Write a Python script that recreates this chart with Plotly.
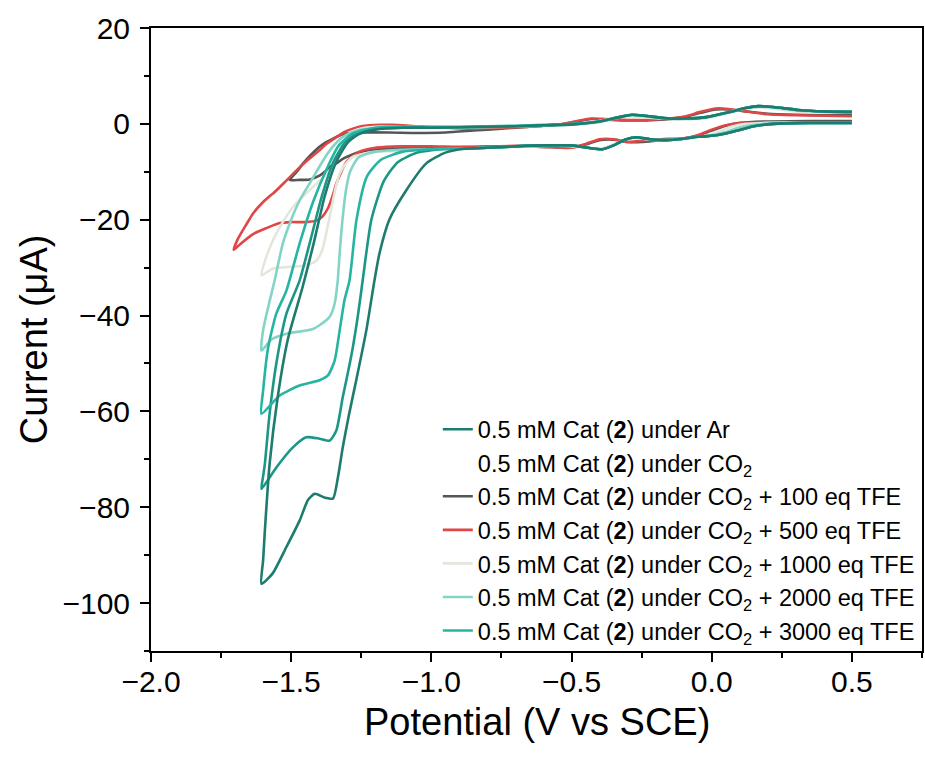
import plotly.graph_objects as go

# ---------------- data (potential V vs SCE, current uA) ----------------
# 0.5 mM Cat (2) under Ar  (dark teal, largest wave)
ar_x = [0.50, 0.42, 0.32, 0.22, 0.15, 0.10, 0.05, 0.00, -0.05, -0.10, -0.16, -0.22, -0.27, -0.31, -0.35, -0.39, -0.44, -0.50, -0.60, -0.70, -0.80, -0.88, -0.95, -1.019, -1.09, -1.15, -1.185, -1.203, -1.232, -1.268, -1.295, -1.316, -1.334, -1.351, -1.38, -1.416, -1.44, -1.47, -1.517, -1.566, -1.606,
        -1.600, -1.594, -1.577, -1.548, -1.512, -1.459, -1.42, -1.38, -1.34, -1.30, -1.26, -1.20, -1.10, -1.00, -0.90, -0.80, -0.70, -0.60, -0.50, -0.40, -0.33, -0.285, -0.24, -0.17, -0.10, -0.02, 0.06, 0.12, 0.167, 0.22, 0.31, 0.40, 0.50]
ar_y = [0.2, 0.2, 0.2, 0.0, -0.5, -1.3, -2.0, -2.5, -2.7, -3.1, -3.4, -3.2, -2.8, -3.3, -4.5, -5.3, -5.0, -4.5, -4.5, -4.7, -5.0, -5.2, -6.0, -8.3, -13.9, -20.0, -27.0, -32.7, -43.1, -53.5, -61.0, -67.5, -74.0, -78.2, -78.0, -77.2, -78.5, -82.8, -88.3, -93.8, -96.0,
        -91.0, -85.0, -71.0, -57.0, -45.0, -34.0, -25.0, -15.0, -8.0, -4.0, -2.2, -1.2, -0.8, -0.8, -0.7, -0.6, -0.5, -0.3, -0.1, 0.5, 1.4, 1.9, 1.7, 1.2, 1.1, 1.4, 2.4, 3.3, 3.7, 3.5, 2.9, 2.6, 2.5]

# 0.5 mM Cat (2) under CO2 + 100 eq TFE
tfe100_x = [0.50, 0.35, 0.20, 0.10, 0.05, 0.00, -0.05, -0.10, -0.18, -0.25, -0.30, -0.35, -0.40, -0.45, -0.50, -0.60, -0.70, -0.80, -0.90, -1.00, -1.10, -1.20, -1.256, -1.29, -1.316, -1.34, -1.363, -1.38, -1.399, -1.434, -1.47, -1.505,
            -1.48, -1.458, -1.43, -1.399, -1.375, -1.351, -1.33, -1.304, -1.25, -1.15, -1.05, -0.95, -0.85, -0.75, -0.65, -0.55, -0.48, -0.43, -0.38, -0.30, -0.20, -0.10, -0.04, 0.014, 0.06, 0.12, 0.20, 0.30, 0.40, 0.50]
tfe100_y = [0.6, 0.6, 0.5, 0.2, -0.4, -1.4, -2.5, -3.1, -3.4, -3.8, -3.8, -3.3, -3.4, -4.3, -4.9, -4.8, -4.7, -4.8, -4.9, -5.0, -5.1, -5.4, -5.9, -6.6, -7.3, -8.3, -9.0, -10.0, -10.8, -11.6, -11.7, -11.7,
            -10.0, -8.3, -6.5, -4.8, -3.8, -3.1, -2.5, -2.0, -1.8, -1.8, -1.9, -1.8, -1.4, -1.0, -0.6, -0.2, 0.5, 1.0, 0.9, 0.7, 0.8, 1.4, 2.3, 3.0, 3.0, 2.6, 2.1, 1.9, 1.8, 1.8]

# 0.5 mM Cat (2) under CO2 + 500 eq TFE
tfe500_x = [0.50, 0.35, 0.20, 0.10, 0.05, 0.00, -0.05, -0.10, -0.18, -0.25, -0.30, -0.35, -0.40, -0.45, -0.50, -0.60, -0.70, -0.80, -0.90, -1.00, -1.10, -1.161, -1.22, -1.256, -1.285, -1.304, -1.325, -1.339, -1.352, -1.368, -1.388, -1.41, -1.45, -1.50, -1.541, -1.59, -1.636, -1.68, -1.705,
            -1.69, -1.66, -1.636, -1.60, -1.553, -1.52, -1.481, -1.44, -1.399, -1.37, -1.339, -1.31, -1.28, -1.25, -1.221, -1.18, -1.139, -1.05, -0.95, -0.85, -0.75, -0.65, -0.55, -0.48, -0.43, -0.38, -0.30, -0.20, -0.10, -0.04, 0.014, 0.06, 0.12, 0.20, 0.30, 0.40, 0.50]
tfe500_y = [0.3, 0.3, 0.3, 0.1, -0.3, -1.2, -2.4, -3.0, -3.2, -3.5, -3.8, -3.2, -3.2, -4.2, -5.0, -4.8, -4.6, -4.7, -4.8, -4.7, -4.7, -4.8, -5.2, -5.8, -7.0, -8.0, -10.5, -12.5, -15.0, -17.5, -19.3, -20.2, -20.5, -20.5, -20.7, -21.8, -23.0, -25.0, -26.3,
            -24.0, -21.0, -18.7, -16.3, -13.9, -12.0, -9.7, -7.5, -5.5, -4.0, -2.8, -1.7, -1.0, -0.5, -0.3, -0.2, -0.2, -0.5, -0.8, -1.0, -0.8, -0.6, -0.2, 0.6, 1.1, 1.0, 0.8, 0.9, 1.5, 2.5, 3.2, 3.1, 2.6, 2.0, 1.8, 1.7, 1.6]

# 0.5 mM Cat (2) under CO2 + 1000 eq TFE
tfe1000_x = [0.50, 0.35, 0.20, 0.12, 0.07, 0.03, -0.02, -0.08, -0.16, -0.22, -0.27, -0.31, -0.36, -0.40, -0.45, -0.52, -0.60, -0.70, -0.80, -0.90, -1.00, -1.10, -1.209, -1.25, -1.280, -1.305, -1.327, -1.34, -1.351, -1.363, -1.375, -1.39, -1.41, -1.446, -1.517, -1.565, -1.606,
             -1.59, -1.565, -1.53, -1.494, -1.45, -1.410, -1.38, -1.351, -1.33, -1.316, -1.292, -1.26, -1.20, -1.10, -1.00, -0.90, -0.80, -0.70, -0.60, -0.50, -0.42, -0.35, -0.30, -0.25, -0.18, -0.10, 0.00, 0.07, 0.13, 0.20, 0.30, 0.40, 0.50]
tfe1000_y = [0.3, 0.3, 0.2, 0.0, -0.6, -1.5, -2.5, -3.0, -3.4, -3.3, -3.0, -3.3, -4.5, -5.2, -5.0, -4.6, -4.6, -4.8, -5.0, -5.2, -5.4, -5.6, -5.9, -6.4, -6.9, -8.3, -10.4, -13.0, -16.0, -19.5, -22.9, -26.5, -28.5, -29.5, -29.9, -30.2, -31.6,
             -28.0, -24.3, -20.5, -17.4, -14.7, -12.5, -10.8, -9.0, -6.3, -4.1, -2.0, -1.1, -0.6, -0.5, -0.6, -0.7, -0.6, -0.5, -0.3, -0.1, 0.4, 1.2, 1.6, 1.4, 1.1, 1.0, 1.4, 2.6, 3.4, 3.3, 2.6, 2.4, 2.3]

# 0.5 mM Cat (2) under CO2 + 2000 eq TFE
tfe2000_x = [0.50, 0.35, 0.22, 0.14, 0.09, 0.05, 0.00, -0.05, -0.10, -0.16, -0.22, -0.27, -0.31, -0.35, -0.39, -0.44, -0.50, -0.60, -0.70, -0.80, -0.90, -1.00, -1.10, -1.20, -1.26, -1.29, -1.305, -1.317, -1.327, -1.334, -1.345, -1.36, -1.375, -1.422, -1.517, -1.57, -1.606,
             -1.600, -1.577, -1.559, -1.53, -1.50, -1.47, -1.43, -1.40, -1.37, -1.34, -1.31, -1.27, -1.20, -1.10, -1.00, -0.90, -0.80, -0.70, -0.60, -0.50, -0.40, -0.33, -0.285, -0.24, -0.17, -0.10, -0.02, 0.06, 0.12, 0.167, 0.22, 0.31, 0.40, 0.50]
tfe2000_y = [0.2, 0.2, 0.1, -0.3, -0.9, -1.7, -2.4, -2.7, -3.1, -3.4, -3.2, -2.8, -3.3, -4.5, -5.3, -5.0, -4.5, -4.5, -4.7, -5.0, -5.2, -5.3, -5.4, -5.8, -7.0, -10.0, -14.0, -20.0, -27.0, -32.7, -37.5, -40.0, -41.0, -42.8, -43.8, -45.0, -47.3,
             -43.0, -37.0, -32.7, -25.0, -20.0, -16.0, -12.0, -9.0, -6.2, -4.0, -2.5, -1.5, -0.9, -0.7, -0.8, -0.8, -0.7, -0.6, -0.4, -0.2, 0.4, 1.3, 1.8, 1.6, 1.1, 1.0, 1.3, 2.3, 3.2, 3.6, 3.4, 2.8, 2.5, 2.4]

# 0.5 mM Cat (2) under CO2 + 3000 eq TFE
tfe3000_x = [0.50, 0.35, 0.22, 0.15, 0.10, 0.05, 0.00, -0.05, -0.10, -0.16, -0.22, -0.27, -0.31, -0.35, -0.39, -0.44, -0.50, -0.60, -0.70, -0.80, -0.90, -1.00, -1.10, -1.18, -1.23, -1.267, -1.292, -1.310, -1.327, -1.345, -1.369, -1.399, -1.470, -1.541, -1.606,
             -1.600, -1.582, -1.553, -1.517, -1.47, -1.42, -1.37, -1.33, -1.28, -1.20, -1.10, -1.00, -0.90, -0.80, -0.70, -0.60, -0.50, -0.40, -0.33, -0.285, -0.24, -0.17, -0.10, -0.02, 0.06, 0.12, 0.167, 0.22, 0.31, 0.40, 0.50]
tfe3000_y = [0.2, 0.2, 0.0, -0.5, -1.3, -2.0, -2.5, -2.7, -3.1, -3.4, -3.2, -2.8, -3.3, -4.5, -5.3, -5.0, -4.5, -4.5, -4.7, -5.0, -5.2, -5.3, -5.8, -7.5, -11.0, -20.0, -32.7, -36.8, -43.1, -49.4, -52.5, -53.5, -54.6, -56.7, -60.5,
             -55.6, -46.6, -39.6, -34.8, -25.0, -16.0, -9.0, -4.5, -2.0, -0.8, -0.5, -0.6, -0.6, -0.5, -0.4, -0.2, 0.0, 0.5, 1.4, 1.9, 1.7, 1.2, 1.1, 1.4, 2.4, 3.3, 3.7, 3.5, 2.9, 2.6, 2.5]

# additional teal scan (wave to about -76 uA), not in the legend
extra_x = [0.50, 0.35, 0.22, 0.15, 0.10, 0.05, 0.00, -0.05, -0.10, -0.16, -0.22, -0.27, -0.31, -0.35, -0.39, -0.44, -0.50, -0.60, -0.70, -0.80, -0.90, -0.95, -1.05, -1.12, -1.17, -1.214, -1.245, -1.262, -1.280, -1.298, -1.316, -1.339, -1.363, -1.399, -1.446, -1.494, -1.553, -1.606,
           -1.600, -1.594, -1.577, -1.553, -1.517, -1.47, -1.43, -1.39, -1.35, -1.31, -1.27, -1.20, -1.10, -1.00, -0.90, -0.80, -0.70, -0.60, -0.50, -0.40, -0.33, -0.285, -0.24, -0.17, -0.10, -0.02, 0.06, 0.12, 0.167, 0.22, 0.31, 0.40, 0.50]
extra_y = [0.2, 0.2, 0.0, -0.5, -1.3, -2.0, -2.5, -2.7, -3.1, -3.4, -3.2, -2.8, -3.3, -4.5, -5.3, -5.0, -4.5, -4.5, -4.7, -5.0, -5.2, -5.2, -6.0, -8.0, -12.0, -20.0, -32.7, -40.0, -46.6, -52.0, -57.0, -64.0, -66.1, -65.7, -65.4, -67.5, -71.7, -76.2,
           -73.5, -71.0, -60.5, -50.0, -39.6, -32.7, -24.0, -15.0, -8.0, -4.0, -2.0, -1.0, -0.8, -0.8, -0.7, -0.6, -0.5, -0.3, -0.1, 0.5, 1.4, 1.9, 1.7, 1.2, 1.1, 1.4, 2.4, 3.3, 3.7, 3.5, 2.9, 2.6, 2.5]

# legend labels
lab_ar = "0.5 mM Cat (<b>2</b>) under Ar"
lab_co2 = "0.5 mM Cat (<b>2</b>) under CO<sub>2</sub>"
lab_100 = "0.5 mM Cat (<b>2</b>) under CO<sub>2</sub> + 100 eq TFE"
lab_500 = "0.5 mM Cat (<b>2</b>) under CO<sub>2</sub> + 500 eq TFE"
lab_1000 = "0.5 mM Cat (<b>2</b>) under CO<sub>2</sub> + 1000 eq TFE"
lab_2000 = "0.5 mM Cat (<b>2</b>) under CO<sub>2</sub> + 2000 eq TFE"
lab_3000 = "0.5 mM Cat (<b>2</b>) under CO<sub>2</sub> + 3000 eq TFE"

x_title = "Potential (V vs SCE)"
y_title = "Current (μA)"
x_ticks = [-2.0, -1.5, -1.0, -0.5, 0.0, 0.5]
y_ticks = [20, 0, -20, -40, -60, -80, -100]

# ---------------- figure ----------------
C_AR = "#1d7c6e"
C_100 = "#555555"
C_500 = "#df4646"
C_1000 = "#e3e7db"
C_2000 = "#84d4c6"
C_3000 = "#26b4a3"
C_EXTRA = "#1b9787"
LW = 2.6

fig = go.Figure()

def add(x, y, color, name, rank, show=True):
    fig.add_trace(go.Scatter(
        x=x, y=y, mode="lines", name=name, legendrank=rank, showlegend=show,
        line=dict(color=color, width=LW, shape="spline", smoothing=0.6),
    ))

add(tfe100_x, tfe100_y, C_100, lab_100, 3)
add(tfe500_x, tfe500_y, C_500, lab_500, 4)
add(tfe1000_x, tfe1000_y, C_1000, lab_1000, 5)
add(tfe2000_x, tfe2000_y, C_2000, lab_2000, 6)
add(extra_x, extra_y, C_EXTRA, "extra", 8, show=False)
add(tfe3000_x, tfe3000_y, C_3000, lab_3000, 7)
add(ar_x, ar_y, C_AR, lab_ar, 1)
# CO2 entry without visible line
fig.add_trace(go.Scatter(x=[None], y=[None], mode="lines", name=lab_co2, legendrank=2,
                         line=dict(color="rgba(0,0,0,0)", width=LW)))

FONT = "Liberation Sans, Arial, sans-serif"
fig.update_layout(
    width=925, height=761, autosize=False,
    margin=dict(l=151, r=1, t=28, b=110),
    paper_bgcolor="white", plot_bgcolor="white",
    font=dict(family=FONT, color="black"),
    showlegend=True,
    legend=dict(x=0.372, y=0.391, xanchor="left", yanchor="top",
                bgcolor="rgba(0,0,0,0)", font=dict(size=23.5, family=FONT),
                tracegroupgap=0, itemwidth=30),
    xaxis=dict(range=[-2.0, 0.75], tickvals=x_ticks, tickformat=".1f",
               ticks="outside", ticklen=9, tickwidth=2, tickcolor="black",
               minor=dict(ticks="outside", dtick=0.25, tick0=-2.0, ticklen=5, tickwidth=2, tickcolor="black"),
               showline=True, linewidth=2, linecolor="black", mirror=True,
               showgrid=False, zeroline=False, ticklabelstandoff=-6,
               tickfont=dict(size=30, family=FONT)),
    yaxis=dict(range=[-110, 20], tickvals=y_ticks,
               ticks="outside", ticklen=9, tickwidth=2, tickcolor="black",
               minor=dict(ticks="outside", dtick=10, tick0=0, ticklen=5, tickwidth=2, tickcolor="black"),
               showline=True, linewidth=2, linecolor="black", mirror=True,
               showgrid=False, zeroline=False, ticklabelstandoff=4,
               tickfont=dict(size=30, family=FONT)),
    annotations=[
        dict(text=x_title, xref="paper", yref="paper", x=0.5, y=-0.114,
             xanchor="center", yanchor="middle", showarrow=False,
             font=dict(size=38, family=FONT, color="black")),
        dict(text=y_title, xref="paper", yref="paper", x=-0.152, y=0.5,
             xanchor="center", yanchor="middle", textangle=-90, showarrow=False,
             font=dict(size=38, family=FONT, color="black")),
    ],
)

post = ("document.body.style.margin='0';document.body.style.padding='0';"
        "document.body.style.overflow='hidden';"
        "var gd=document.getElementById('{plot_id}');"
        "Plotly.relayout(gd,{width:925,height:761});")
fig.write_html("out.html", post_script=post, default_width="925px", default_height="761px",
               config={"responsive": False, "displayModeBar": False})
